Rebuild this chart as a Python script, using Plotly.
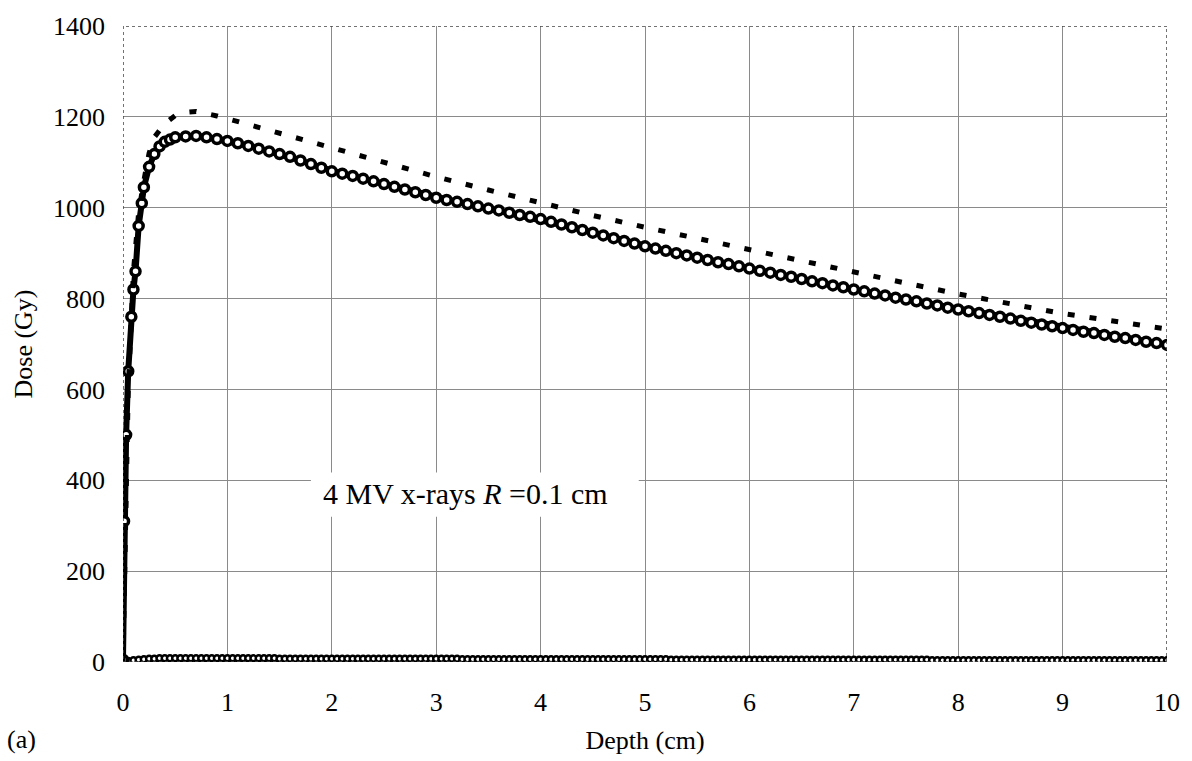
import plotly.graph_objects as go

# ---- data ----
# Solid curve (with open-circle markers)
solid_x = [0.0, 0.01, 0.03, 0.05, 0.08, 0.1, 0.12, 0.15, 0.18, 0.2, 0.25, 0.3, 0.35, 0.4, 0.45, 0.5,
           0.6, 0.7, 0.8, 0.9] + [round(1.0 + 0.1 * i, 1) for i in range(91)]
solid_y = [5, 310, 500, 640, 760, 820, 860, 960, 1010, 1045, 1090, 1118, 1135, 1145, 1150, 1155,
           1157, 1158, 1155, 1151,
           1147, 1142, 1136, 1130, 1124, 1118, 1112, 1104, 1096, 1088,
           1080, 1075, 1070, 1064, 1058, 1052, 1046, 1040, 1034, 1028,
           1022, 1017, 1013, 1008, 1003, 998, 994, 989, 984, 980,
           975, 969, 963, 957, 951, 945, 939, 933, 927, 921,
           915, 910, 905, 900, 895, 890, 885, 880, 876, 871,
           866, 861, 857, 852, 848, 843, 838, 834, 829, 825,
           820, 816, 811, 807, 802, 798, 794, 789, 785, 780,
           776, 772, 768, 764, 760, 756, 751, 747, 743, 739,
           735, 731, 727, 724, 720, 716, 713, 709, 705, 702,
           698]

# Dashed curve
dash_x = [0.0, 0.05, 0.1, 0.15, 0.2, 0.25, 0.3, 0.35, 0.4, 0.5, 0.6, 0.7, 0.8, 0.9, 1.0,
          1.25, 1.5, 1.75, 2.0, 2.5, 3.0, 3.5, 4.0, 4.5, 5.0, 5.5, 6.0, 6.5, 7.0,
          7.5, 8.0, 8.5, 9.0, 9.5, 10.0]
dash_y = [0, 600, 860, 990, 1060, 1120, 1155, 1172, 1185, 1203, 1210, 1212, 1208, 1202, 1196,
          1180, 1163, 1146, 1130, 1099, 1068, 1039, 1010, 983, 957, 932, 908, 883, 859,
          834, 810, 788, 767, 750, 733]

# Near-zero curve (every 0.05 cm)
low_x = [round(0.05 * i, 2) for i in range(201)]
low_y = [0, 2, 4, 5, 6, 7, 7, 8, 8, 8, 8, 8, 8, 8, 8, 8, 8, 8, 8, 8,
         8, 8, 8, 8, 8, 8, 8, 8, 8, 8, 7, 7, 7, 7, 7, 7, 7, 7, 7, 7,
         7, 7, 7, 7, 7, 7, 7, 7, 7, 7, 7, 7, 7, 7, 7, 7, 7, 7, 7, 7,
         7, 7, 7, 7, 7, 6, 6, 6, 6, 6, 6, 6, 6, 6, 6, 6, 6, 6, 6, 6,
         6, 6, 6, 6, 6, 6, 6, 6, 6, 6, 6, 6, 6, 6, 6, 6, 6, 6, 6, 6,
         6, 6, 6, 6, 6, 5, 5, 5, 5, 5, 5, 5, 5, 5, 5, 5, 5, 5, 5, 5,
         5, 5, 5, 5, 5, 5, 5, 5, 5, 5, 5, 5, 5, 5, 5, 5, 5, 5, 5, 5,
         5, 5, 5, 5, 5, 5, 5, 5, 5, 5, 5, 5, 5, 5, 5, 4, 4, 4, 4, 4,
         4, 4, 4, 4, 4, 4, 4, 4, 4, 4, 4, 4, 4, 4, 4, 4, 4, 4, 4, 4,
         4, 4, 4, 4, 4, 4, 4, 4, 4, 4, 4, 4, 4, 4, 4, 4, 4, 4, 4, 4,
         4]

x_ticks = list(range(0, 11))
y_ticks = list(range(0, 1401, 200))

FONT = "Liberation Serif"

fig = go.Figure()

fig.add_trace(go.Scatter(
    x=low_x, y=low_y, mode="lines+markers",
    line=dict(color="black", width=4),
    marker=dict(symbol="circle", size=6, color="white", line=dict(color="black", width=2.5)),
    showlegend=False))

fig.add_trace(go.Scatter(
    x=solid_x, y=solid_y, mode="lines+markers",
    line=dict(color="black", width=6),
    marker=dict(symbol="circle", size=9, color="white", line=dict(color="black", width=3.5)),
    showlegend=False))

fig.add_trace(go.Scatter(
    x=dash_x, y=dash_y, mode="lines",
    line=dict(color="black", width=5, dash="7px,15px"),
    showlegend=False))

# plot frame
fig.add_shape(type="rect", xref="x", yref="y", x0=0, x1=10, y0=0, y1=1400,
              line=dict(color="#444444", width=1.5, dash="dot"), layer="above")

# white label box hiding gridlines
fig.add_shape(type="rect", xref="x", yref="y", x0=1.80, x1=4.94, y0=320, y1=417,
              line=dict(width=0), fillcolor="white", layer="between")

fig.add_annotation(
    x=1.90, y=370, xref="x", yref="y", xanchor="left", yanchor="middle",
    text="4 MV x-rays <i>R</i> =0.1 cm", showarrow=False,
    font=dict(family=FONT, size=30, color="black"))

fig.add_annotation(
    x=(21 - 123) / 1047, y=(663 - 742) / 645, xref="paper", yref="paper", text="(a)",
    showarrow=False, xanchor="center", yanchor="middle",
    font=dict(family=FONT, size=26, color="black"))

fig.update_layout(
    width=1192, height=761,
    margin=dict(l=123, r=22, t=18, b=98),
    paper_bgcolor="white", plot_bgcolor="white",
    font=dict(family=FONT, size=26, color="black"),
    xaxis=dict(
        range=[0, 10], tickvals=x_ticks, ticktext=[str(v) for v in x_ticks],
        showgrid=True, gridcolor="#8a8a8a", gridwidth=1,
        zeroline=False, showline=False, ticks="", ticklabelstandoff=22,
        title=dict(text="Depth (cm)", font=dict(family=FONT, size=26), standoff=14)),
    yaxis=dict(
        range=[0, 1400], tickvals=y_ticks, ticktext=[str(v) for v in y_ticks],
        showgrid=True, gridcolor="#8a8a8a", gridwidth=1,
        zeroline=False, showline=False, ticks="", ticklabelstandoff=17,
        title=dict(text="Dose (Gy)", font=dict(family=FONT, size=26), standoff=12)),
)

fig.write_html("out.html")
